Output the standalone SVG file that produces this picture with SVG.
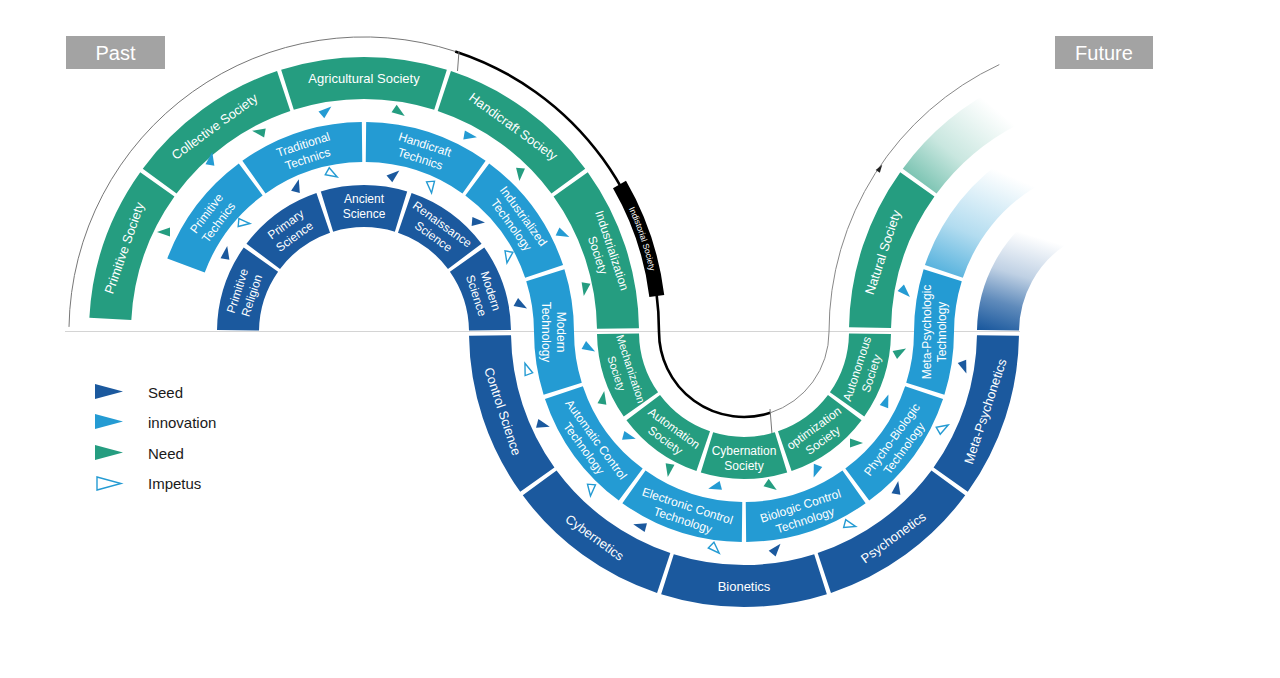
<svg xmlns="http://www.w3.org/2000/svg" xmlns:xlink="http://www.w3.org/1999/xlink" width="1280" height="678" viewBox="0 0 1280 678">
<style>
.seg{fill:none}
.g{stroke:#259d80}
.lb{stroke:#249bd3}
.db{stroke:#1b599e}
.lbl{font-family:"Liberation Sans",Arial,Helvetica,sans-serif;fill:#fff;font-size:13px;text-anchor:middle}
.l2{font-size:12px}
.l3{font-size:11px}
.seed{fill:#1b599e}
.inno{fill:#249bd3}
.need{fill:#259d80}
.imp{fill:#fff;stroke:#249bd3;stroke-width:1.4}
.leg{font-family:"Liberation Sans",Arial,Helvetica,sans-serif;font-size:15px;fill:#1a1a1a}
.box{fill:#a3a3a3}
.boxt{font-family:"Liberation Sans",Arial,Helvetica,sans-serif;font-size:20px;fill:#fff;text-anchor:middle}
</style>
<defs>
<path id="tri" d="M7,0 L-6,-4.5 L-6,4.5Z"/>
<path id="trio" d="M6,0 L-5.5,-4 L-5.5,4Z"/>
<linearGradient id="fadeG" gradientUnits="userSpaceOnUse" x1="905" y1="195" x2="985" y2="100">
<stop offset="0" stop-color="#259d80" stop-opacity="0.75"/>
<stop offset="0.5" stop-color="#259d80" stop-opacity="0.25"/>
<stop offset="1" stop-color="#259d80" stop-opacity="0"/>
</linearGradient>
<linearGradient id="fadeLB" gradientUnits="userSpaceOnUse" x1="935" y1="280" x2="985" y2="165">
<stop offset="0" stop-color="#249bd3" stop-opacity="0.85"/>
<stop offset="0.45" stop-color="#249bd3" stop-opacity="0.35"/>
<stop offset="1" stop-color="#249bd3" stop-opacity="0"/>
</linearGradient>
<linearGradient id="fadeDB" gradientUnits="userSpaceOnUse" x1="1000" y1="335" x2="1030" y2="235">
<stop offset="0" stop-color="#1b599e" stop-opacity="1"/>
<stop offset="0.3" stop-color="#1b599e" stop-opacity="0.7"/>
<stop offset="0.6" stop-color="#1b599e" stop-opacity="0.28"/>
<stop offset="1" stop-color="#1b599e" stop-opacity="0"/>
</linearGradient>
</defs>
<rect width="1280" height="678" fill="#fff"/>

<g id="timeline">
<line x1="65" y1="331.5" x2="1020" y2="331.5" stroke="#d4d4d4" stroke-width="1.2"/>
<path d="M69,326.9 A295,295 0 0 1 455.2,51.4" fill="none" stroke="#777" stroke-width="1"/>
<path d="M455.2,51.4 A295,295 0 0 1 659,332 A85,85 0 0 0 770.3,412.8" fill="none" stroke="#000" stroke-width="2.6"/>
<path d="M770.3,412.8 A85,85 0 0 0 829,332 A295,295 0 0 1 999.3,64.6" fill="none" stroke="#888" stroke-width="1"/>
<line x1="459" y1="51" x2="457.5" y2="71" stroke="#777" stroke-width="1"/>
<line x1="770" y1="409" x2="772" y2="434" stroke="#777" stroke-width="1"/>
<path d="M4,0 L-4,-2.5 L-4,2.5Z" fill="#222" transform="translate(880 168) rotate(-56)"/>
</g>

<g id="industorial-society">
<path id="indPath" d="M619.5,184.5 A295,295 0 0 1 656.8,296" fill="none" stroke="#000" stroke-width="15"/>
<text font-family="Liberation Sans, Arial, sans-serif" font-size="8.5" fill="#fff" text-anchor="middle" dy="3"><textPath href="#indPath" startOffset="50%">Indistorial Society</textPath></text>
</g>

<!-- Upper-left: Society ring -->
<g id="primitive-society">
<circle class="seg g" cx="364" cy="332" r="254" stroke-width="42" pathLength="360" stroke-dasharray="32.55 400" stroke-dashoffset="-183"/>
<text class="lbl" transform="translate(364 332) rotate(-70.7) translate(0 -254)" y="4.5">Primitive Society</text>
</g>
<g id="collective-society">
<circle class="seg g" cx="364" cy="332" r="254" stroke-width="42" pathLength="360" stroke-dasharray="35.1 400" stroke-dashoffset="-216.45"/>
<text class="lbl" transform="translate(364 332) rotate(-36) translate(0 -254)" y="4.5">Collective Society</text>
</g>
<g id="agricultural-society">
<circle class="seg g" cx="364" cy="332" r="254" stroke-width="42" pathLength="360" stroke-dasharray="35.1 400" stroke-dashoffset="-252.45"/>
<text class="lbl" transform="translate(364 332) rotate(0) translate(0 -254)" y="4.5">Agricultural Society</text>
</g>
<g id="handicraft-society">
<circle class="seg g" cx="364" cy="332" r="254" stroke-width="42" pathLength="360" stroke-dasharray="35.1 400" stroke-dashoffset="-288.45"/>
<text class="lbl" transform="translate(364 332) rotate(36) translate(0 -254)" y="4.5">Handicraft Society</text>
</g>
<g id="industrialization-society">
<circle class="seg g" cx="364" cy="332" r="254" stroke-width="42" pathLength="360" stroke-dasharray="34.75 400" stroke-dashoffset="-324.45"/>
<text class="lbl l2" transform="translate(364 332) rotate(71.8) translate(0 -254)"><tspan x="0" y="-3">Industrialization</tspan><tspan x="0" y="12">Society</tspan></text>
</g>

<!-- Upper-left: Technology ring -->
<g id="primitive-technics">
<circle class="seg lb" cx="364" cy="332" r="190" stroke-width="40" pathLength="360" stroke-dasharray="32.9 400" stroke-dashoffset="-200.5"/>
<text class="lbl l2" transform="translate(364 332) rotate(-53) translate(0 -190)"><tspan x="0" y="-3">Primitive</tspan><tspan x="0" y="12">Technics</tspan></text>
</g>
<g id="traditional-technics">
<circle class="seg lb" cx="364" cy="332" r="190" stroke-width="40" pathLength="360" stroke-dasharray="34.8 400" stroke-dashoffset="-234.6"/>
<text class="lbl l2" transform="translate(364 332) rotate(-18) translate(0 -190)"><tspan x="0" y="-3">Traditional</tspan><tspan x="0" y="12">Technics</tspan></text>
</g>
<g id="handicraft-technics">
<circle class="seg lb" cx="364" cy="332" r="190" stroke-width="40" pathLength="360" stroke-dasharray="34.8 400" stroke-dashoffset="-270.6"/>
<text class="lbl l2" transform="translate(364 332) rotate(18) translate(0 -190)"><tspan x="0" y="-3">Handicraft</tspan><tspan x="0" y="12">Technics</tspan></text>
</g>
<g id="industrialized-technology">
<circle class="seg lb" cx="364" cy="332" r="190" stroke-width="40" pathLength="360" stroke-dasharray="34.8 400" stroke-dashoffset="-306.6"/>
<text class="lbl l2" transform="translate(364 332) rotate(54) translate(0 -190)"><tspan x="0" y="-3">Industrialized</tspan><tspan x="0" y="12">Technology</tspan></text>
</g>
<g id="modern-technology">
<circle class="seg lb" cx="364" cy="332" r="190" stroke-width="40" pathLength="360" stroke-dasharray="17.4 400" stroke-dashoffset="-342.6"/>
<circle class="seg lb" cx="744" cy="332" r="190" stroke-width="40" pathLength="360" stroke-dasharray="17.6 400" stroke-dashoffset="-162.6"/>
<text class="lbl l2" transform="translate(364 332) rotate(90) translate(0 -190)"><tspan x="0" y="-3">Modern</tspan><tspan x="0" y="12">Technology</tspan></text>
</g>

<!-- Upper-left: Science ring -->
<g id="primitive-religion">
<circle class="seg db" cx="364" cy="332" r="126" stroke-width="42" pathLength="360" stroke-dasharray="34.3 400" stroke-dashoffset="-180.8"/>
<text class="lbl l2" transform="translate(364 332) rotate(-72) translate(0 -126)"><tspan x="0" y="-3">Primitive</tspan><tspan x="0" y="12">Religion</tspan></text>
</g>
<g id="primary-science">
<circle class="seg db" cx="364" cy="332" r="126" stroke-width="42" pathLength="360" stroke-dasharray="34.2 400" stroke-dashoffset="-216.9"/>
<text class="lbl l2" transform="translate(364 332) rotate(-36) translate(0 -126)"><tspan x="0" y="-3">Primary</tspan><tspan x="0" y="12">Science</tspan></text>
</g>
<g id="ancient-science">
<circle class="seg db" cx="364" cy="332" r="126" stroke-width="42" pathLength="360" stroke-dasharray="34.2 400" stroke-dashoffset="-252.9"/>
<text class="lbl l2" transform="translate(364 332) rotate(0) translate(0 -126)"><tspan x="0" y="-3">Ancient</tspan><tspan x="0" y="12">Science</tspan></text>
</g>
<g id="renaissance-science">
<circle class="seg db" cx="364" cy="332" r="126" stroke-width="42" pathLength="360" stroke-dasharray="34.2 400" stroke-dashoffset="-288.9"/>
<text class="lbl l2" transform="translate(364 332) rotate(36) translate(0 -126)"><tspan x="0" y="-3">Renaissance</tspan><tspan x="0" y="12">Science</tspan></text>
</g>
<g id="modern-science">
<circle class="seg db" cx="364" cy="332" r="126" stroke-width="42" pathLength="360" stroke-dasharray="34.3 400" stroke-dashoffset="-324.9"/>
<text class="lbl l2" transform="translate(364 332) rotate(72) translate(0 -126)"><tspan x="0" y="-3">Modern</tspan><tspan x="0" y="12">Science</tspan></text>
</g>

<!-- Lower: Science ring -->
<g id="control-science">
<circle class="seg db" cx="744" cy="332" r="254" stroke-width="42" pathLength="360" stroke-dasharray="34.75 400" stroke-dashoffset="-144.45"/>
<text class="lbl" transform="translate(744 332) rotate(71.8) translate(0 254)" y="4.5">Control Science</text>
</g>
<g id="cybernetics">
<circle class="seg db" cx="744" cy="332" r="254" stroke-width="42" pathLength="360" stroke-dasharray="35.1 400" stroke-dashoffset="-108.45"/>
<text class="lbl" transform="translate(744 332) rotate(36) translate(0 254)" y="4.5">Cybernetics</text>
</g>
<g id="bionetics">
<circle class="seg db" cx="744" cy="332" r="254" stroke-width="42" pathLength="360" stroke-dasharray="35.1 400" stroke-dashoffset="-72.45"/>
<text class="lbl" transform="translate(744 332) rotate(0) translate(0 254)" y="4.5">Bionetics</text>
</g>
<g id="psychonetics">
<circle class="seg db" cx="744" cy="332" r="254" stroke-width="42" pathLength="360" stroke-dasharray="35.1 400" stroke-dashoffset="-36.45"/>
<text class="lbl" transform="translate(744 332) rotate(-36) translate(0 254)" y="4.5">Psychonetics</text>
</g>
<g id="meta-psychonetics">
<circle class="seg db" cx="744" cy="332" r="254" stroke-width="42" pathLength="360" stroke-dasharray="34.75 400" stroke-dashoffset="-0.8"/>
<text class="lbl" transform="translate(744 332) rotate(-71.8) translate(0 254)" y="4.5">Meta-Psychonetics</text>
</g>

<!-- Lower: Technology ring -->
<g id="automatic-control-technology">
<circle class="seg lb" cx="744" cy="332" r="190" stroke-width="40" pathLength="360" stroke-dasharray="34.8 400" stroke-dashoffset="-126.6"/>
<text class="lbl l2" transform="translate(744 332) rotate(54) translate(0 190)"><tspan x="0" y="-3">Automatic Control</tspan><tspan x="0" y="12">Technology</tspan></text>
</g>
<g id="electronic-control-technology">
<circle class="seg lb" cx="744" cy="332" r="190" stroke-width="40" pathLength="360" stroke-dasharray="34.8 400" stroke-dashoffset="-90.6"/>
<text class="lbl l2" transform="translate(744 332) rotate(18) translate(0 190)"><tspan x="0" y="-3">Electronic Control</tspan><tspan x="0" y="12">Technology</tspan></text>
</g>
<g id="biologic-control-technology">
<circle class="seg lb" cx="744" cy="332" r="190" stroke-width="40" pathLength="360" stroke-dasharray="34.8 400" stroke-dashoffset="-54.6"/>
<text class="lbl l2" transform="translate(744 332) rotate(-18) translate(0 190)"><tspan x="0" y="-3">Biologic Control</tspan><tspan x="0" y="12">Technology</tspan></text>
</g>
<g id="phycho-biologic-technology">
<circle class="seg lb" cx="744" cy="332" r="190" stroke-width="40" pathLength="360" stroke-dasharray="34.8 400" stroke-dashoffset="-18.6"/>
<text class="lbl l2" transform="translate(744 332) rotate(-54) translate(0 190)"><tspan x="0" y="-3">Phycho-Biologic</tspan><tspan x="0" y="12">Technology</tspan></text>
</g>
<g id="meta-psychologic-technology">
<circle class="seg lb" cx="744" cy="332" r="190" stroke-width="40" pathLength="360" stroke-dasharray="17.4 400" stroke-dashoffset="0"/>
<circle class="seg lb" cx="1124" cy="332" r="190" stroke-width="40" pathLength="360" stroke-dasharray="17.6 400" stroke-dashoffset="-179.8"/>
<text class="lbl l2" transform="translate(744 332) rotate(-90) translate(0 190)"><tspan x="0" y="-3">Meta-Psychologic</tspan><tspan x="0" y="12">Technology</tspan></text>
</g>

<!-- Lower: Society ring -->
<g id="mechanization-society">
<circle class="seg g" cx="744" cy="332" r="126" stroke-width="42" pathLength="360" stroke-dasharray="34.3 400" stroke-dashoffset="-144.9"/>
<text class="lbl l3" transform="translate(744 332) rotate(72) translate(0 126)"><tspan x="0" y="-3">Mechanization</tspan><tspan x="0" y="12">Society</tspan></text>
</g>
<g id="automation-society">
<circle class="seg g" cx="744" cy="332" r="126" stroke-width="42" pathLength="360" stroke-dasharray="34.2 400" stroke-dashoffset="-108.9"/>
<text class="lbl l2" transform="translate(744 332) rotate(36) translate(0 126)"><tspan x="0" y="-3">Automation</tspan><tspan x="0" y="12">Society</tspan></text>
</g>
<g id="cybernation-society">
<circle class="seg g" cx="744" cy="332" r="126" stroke-width="42" pathLength="360" stroke-dasharray="34.2 400" stroke-dashoffset="-72.9"/>
<text class="lbl l2" transform="translate(744 332) rotate(0) translate(0 126)"><tspan x="0" y="-3">Cybernation</tspan><tspan x="0" y="12">Society</tspan></text>
</g>
<g id="optimization-society">
<circle class="seg g" cx="744" cy="332" r="126" stroke-width="42" pathLength="360" stroke-dasharray="34.2 400" stroke-dashoffset="-36.9"/>
<text class="lbl l2" transform="translate(744 332) rotate(-36) translate(0 126)"><tspan x="0" y="-3">optimization</tspan><tspan x="0" y="12">Society</tspan></text>
</g>
<g id="autonomous-society">
<circle class="seg g" cx="744" cy="332" r="126" stroke-width="42" pathLength="360" stroke-dasharray="34.3 400" stroke-dashoffset="-0.8"/>
<text class="lbl l2" transform="translate(744 332) rotate(-72) translate(0 126)"><tspan x="0" y="-3">Autonomous</tspan><tspan x="0" y="12">Society</tspan></text>
</g>

<!-- Upper-right -->
<g id="natural-society">
<circle class="seg g" cx="1124" cy="332" r="254" stroke-width="42" pathLength="360" stroke-dasharray="34.55 400" stroke-dashoffset="-181"/>
<text class="lbl" transform="translate(1124 332) rotate(-71.7) translate(0 -254)" y="4.5">Natural Society</text>
</g>
<g id="future-society-fade">
<circle class="seg" stroke="url(#fadeG)" cx="1124" cy="332" r="254" stroke-width="42" pathLength="360" stroke-dasharray="28 400" stroke-dashoffset="-216.45"/>
</g>
<g id="future-technology-fade">
<circle class="seg" stroke="url(#fadeLB)" cx="1124" cy="332" r="190" stroke-width="40" pathLength="360" stroke-dasharray="40 400" stroke-dashoffset="-198.6"/>
</g>
<g id="future-science-fade">
<circle class="seg" stroke="url(#fadeDB)" cx="1124" cy="332" r="126" stroke-width="42" pathLength="360" stroke-dasharray="56 400" stroke-dashoffset="-180.8"/>
</g>

<g id="connectors">
<use href="#tri" class="need" transform="translate(164 232) rotate(180)"/>
<use href="#tri" class="inno" transform="translate(211 159) rotate(-80)"/>
<use href="#tri" class="need" transform="translate(259 132) rotate(190)"/>
<use href="#tri" class="inno" transform="translate(326 111) rotate(-40)"/>
<use href="#tri" class="need" transform="translate(399 112) rotate(35)"/>
<use href="#tri" class="inno" transform="translate(470 136) rotate(10)"/>
<use href="#tri" class="need" transform="translate(520 174) rotate(95)"/>
<use href="#tri" class="inno" transform="translate(563 234) rotate(25)"/>
<use href="#tri" class="need" transform="translate(585 289) rotate(100)"/>

<use href="#trio" class="imp" transform="translate(244 223) rotate(5)"/>
<use href="#tri" class="seed" transform="translate(226 253) rotate(-80)"/>
<use href="#tri" class="seed" transform="translate(297 186) rotate(-75)"/>
<use href="#trio" class="imp" transform="translate(332 174) rotate(30)"/>
<use href="#tri" class="seed" transform="translate(394 175) rotate(-40)"/>
<use href="#trio" class="imp" transform="translate(431 187) rotate(85)"/>
<use href="#tri" class="seed" transform="translate(478 222) rotate(5)"/>
<use href="#trio" class="imp" transform="translate(508 257) rotate(100)"/>
<use href="#tri" class="seed" transform="translate(521 305) rotate(30)"/>

<use href="#tri" class="inno" transform="translate(589 348) rotate(30)"/>
<use href="#tri" class="need" transform="translate(603 398) rotate(-80)"/>
<use href="#tri" class="inno" transform="translate(629 437) rotate(15)"/>
<use href="#tri" class="need" transform="translate(669 470) rotate(100)"/>
<use href="#tri" class="inno" transform="translate(715 487) rotate(165)"/>
<use href="#tri" class="need" transform="translate(771 486) rotate(35)"/>
<use href="#tri" class="inno" transform="translate(816 471) rotate(110)"/>
<use href="#tri" class="need" transform="translate(856 443) rotate(0)"/>
<use href="#tri" class="inno" transform="translate(886 401) rotate(-70)"/>
<use href="#tri" class="need" transform="translate(900 352) rotate(-30)"/>

<use href="#trio" class="imp" transform="translate(527 369) rotate(-110)"/>
<use href="#tri" class="seed" transform="translate(543 425) rotate(15)"/>
<use href="#trio" class="imp" transform="translate(591 490) rotate(95)"/>
<use href="#tri" class="seed" transform="translate(640 526) rotate(195)"/>
<use href="#trio" class="imp" transform="translate(715 549) rotate(45)"/>
<use href="#tri" class="seed" transform="translate(776 549) rotate(-50)"/>
<use href="#trio" class="imp" transform="translate(850 525) rotate(15)"/>
<use href="#tri" class="seed" transform="translate(897 488) rotate(-80)"/>
<use href="#trio" class="imp" transform="translate(943 428) rotate(-30)"/>
<use href="#tri" class="seed" transform="translate(964 367) rotate(70)"/>

<use href="#tri" class="inno" transform="translate(905 292) rotate(45)"/>
</g>

<g id="past">
<rect class="box" x="66" y="36" width="99" height="33"/>
<text class="boxt" x="115.5" y="59.5">Past</text>
</g>
<g id="future">
<rect class="box" x="1055" y="36" width="98" height="33"/>
<text class="boxt" x="1104" y="59.5">Future</text>
</g>

<g id="legend">
<path class="seed" d="M95,384 L123,391.5 L95,399Z"/>
<text class="leg" x="148" y="398">Seed</text>
<path class="inno" d="M95,414 L123,421.5 L95,429Z"/>
<text class="leg" x="148" y="428">innovation</text>
<path class="need" d="M95,445 L123,452.5 L95,460Z"/>
<text class="leg" x="148" y="459">Need</text>
<path class="imp" d="M97,477 L121,483.5 L97,490Z" stroke-width="2"/>
<text class="leg" x="148" y="489">Impetus</text>
</g>
</svg>
